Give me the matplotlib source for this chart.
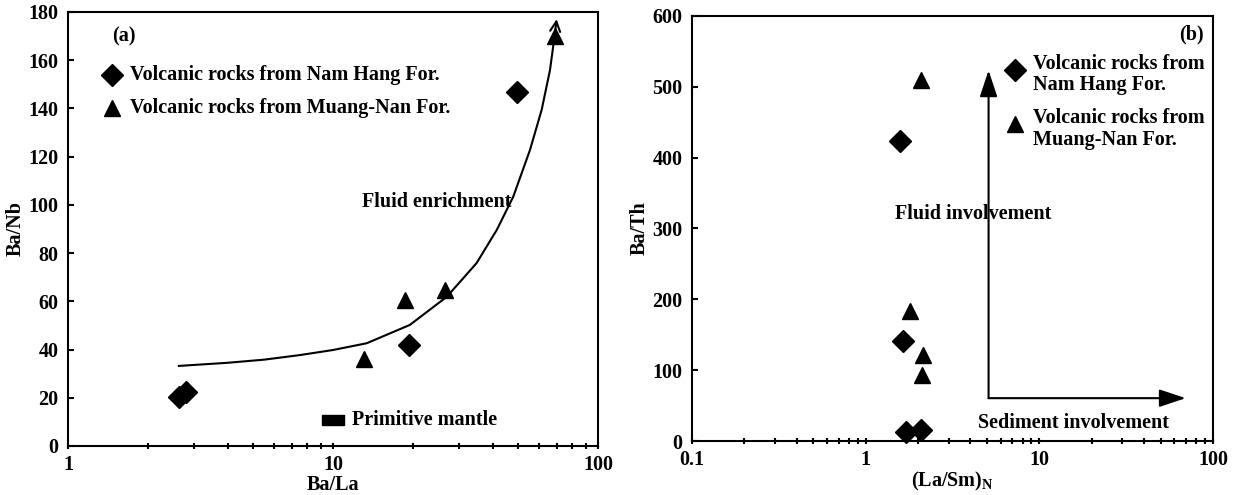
import numpy as np
import matplotlib
matplotlib.use("Agg")
import matplotlib.pyplot as plt
from matplotlib.ticker import LogLocator, NullFormatter

plt.rcParams['font.family'] = ['Liberation Serif', 'DejaVu Serif']
plt.rcParams['font.weight'] = 'bold'
plt.rcParams['axes.labelweight'] = 'bold'
plt.rcParams['font.size'] = 14.5
plt.rcParams['mathtext.fontset'] = 'custom'
plt.rcParams['mathtext.rm'] = 'Liberation Serif:bold'
plt.rcParams['mathtext.bf'] = 'Liberation Serif:bold'

# panel (a): Ba/La vs Ba/Nb
a_nh_x = [2.62, 2.78, 19.4, 49.6]
a_nh_y = [20.3, 22.4, 41.7, 146.8]
a_mn_x = [13.1, 18.7, 26.4, 68.7]
a_mn_y = [36.2, 60.4, 64.5, 170.0]
pm_x, pm_y = 10.0, 10.6
# fluid enrichment trend
curve_x = [2.62, 4.0, 5.5, 7.5, 10.0, 13.4, 19.5, 26.9, 34.8, 41.5, 47.9, 55.4, 61.3, 65.9, 68.8]
curve_y = [33.2, 34.5, 35.8, 37.7, 39.8, 42.6, 50.2, 61.9, 75.8, 89.6, 103.4, 122.8, 139.4, 155.9, 171.2]
arrow_tip_a = (69.8, 177.0)

# panel (b): (La/Sm)N vs Ba/Th
b_nh_x = [1.58, 1.65, 1.70, 2.07]
b_nh_y = [424, 141.7, 13.2, 15.6]
b_mn_x = [2.07, 1.81, 2.15, 2.10]
b_mn_y = [509, 183, 122, 93.5]
arr_origin = (5.1, 60.5)
arr_up_end = (5.1, 523)
arr_right_end = (69.6, 60.5)

fig = plt.figure(figsize=(12.34, 4.95), dpi=100)
ax1 = fig.add_axes([0.0551, 0.099, 0.4295, 0.877])
ax2 = fig.add_axes([0.5608, 0.109, 0.4222, 0.859])

mk = dict(color='black', linestyle='none', clip_on=False)
rect_marker = [(-1.4, -0.6), (1.4, -0.6), (1.4, 0.6), (-1.4, 0.6), (-1.4, -0.6)]
D_MS, T_MS = 11, 11

# ---- (a)
ax1.set_xscale('log')
ax1.set_xlim(1, 100)
ax1.set_ylim(0, 180)
ax1.plot(curve_x, curve_y, color='black', lw=1.5)
ax1.annotate('', xy=arrow_tip_a, xytext=(curve_x[-1], curve_y[-1]),
             arrowprops=dict(arrowstyle='->', lw=1.5, color='black', mutation_scale=18,
                             shrinkA=0, shrinkB=0))
ax1.plot(a_nh_x, a_nh_y, marker='D', ms=D_MS, **mk)
ax1.plot(a_mn_x, a_mn_y, marker='^', ms=T_MS, **mk)
ax1.plot([pm_x], [pm_y], marker=rect_marker, ms=16, **mk)
ax1.text(11.8, pm_y, 'Primitive mantle', va='center', ha='left')
ax1.text(12.9, 101.3, 'Fluid enrichment', va='center', ha='left')
ax1.text(1.47, 169.6, '(a)', va='center', ha='left')
ax1.plot([1.46], [153.8], marker='D', ms=D_MS, **mk)
ax1.plot([1.46], [140.3], marker='^', ms=T_MS, **mk)
ax1.text(1.71, 153.8, 'Volcanic rocks from Nam Hang For.', va='center', ha='left')
ax1.text(1.71, 140.3, 'Volcanic rocks from Muang-Nan For.', va='center', ha='left')
ax1.set_yticks(np.arange(0, 181, 20))
ax1.set_xlabel('Ba/La', labelpad=0)
ax1.set_ylabel('Ba/Nb', labelpad=2)

# ---- (b)
ax2.set_xscale('log')
ax2.set_xlim(0.1, 100)
ax2.set_ylim(0, 600)
ax2.plot(b_nh_x, b_nh_y, marker='D', ms=D_MS, **mk)
ax2.plot(b_mn_x, b_mn_y, marker='^', ms=T_MS, **mk)
head = '-|>,head_length=0.9,head_width=0.3'
ax2.annotate('', xy=arr_up_end, xytext=arr_origin,
             arrowprops=dict(arrowstyle=head, lw=1.5, color='black',
                             shrinkA=0, shrinkB=0, mutation_scale=18))
ax2.annotate('', xy=arr_right_end, xytext=arr_origin,
             arrowprops=dict(arrowstyle=head, lw=1.5, color='black',
                             shrinkA=0, shrinkB=0, mutation_scale=18))
ax2.text(1.48, 320, 'Fluid involvement', va='center', ha='left')
ax2.text(4.44, 25, 'Sediment involvement', va='center', ha='left')
ax2.text(88, 573, '(b)', va='center', ha='right')
ax2.plot([7.2], [523], marker='D', ms=D_MS, **mk)
ax2.plot([7.2], [448], marker='^', ms=T_MS, **mk)
ax2.text(9.25, 517, 'Volcanic rocks from\nNam Hang For.', va='center', ha='left', linespacing=1.1)
ax2.text(9.25, 440, 'Volcanic rocks from\nMuang-Nan For.', va='center', ha='left', linespacing=1.1)
ax2.set_yticks(np.arange(0, 601, 100))
ax2.set_xlabel('(La/Sm)$_\\mathregular{N}$', labelpad=0)
ax2.set_ylabel('Ba/Th', labelpad=2)

for ax in (ax1, ax2):
    for s in ax.spines.values():
        s.set_linewidth(1.5)
    ax.xaxis.set_major_formatter(plt.FuncFormatter(lambda v, p: f'{v:g}'))
    ax.xaxis.set_minor_locator(LogLocator(base=10, subs=np.arange(2, 10)))
    ax.xaxis.set_minor_formatter(NullFormatter())
    ax.tick_params(axis='x', which='both', direction='inout', length=5, width=1.5, pad=4)
    ax.tick_params(axis='y', which='major', direction='in', length=4, width=1.5, pad=7)
    for lab in ax.get_xticklabels() + ax.get_yticklabels():
        lab.set_fontweight('bold')

fig.savefig('out.png', dpi=100)
